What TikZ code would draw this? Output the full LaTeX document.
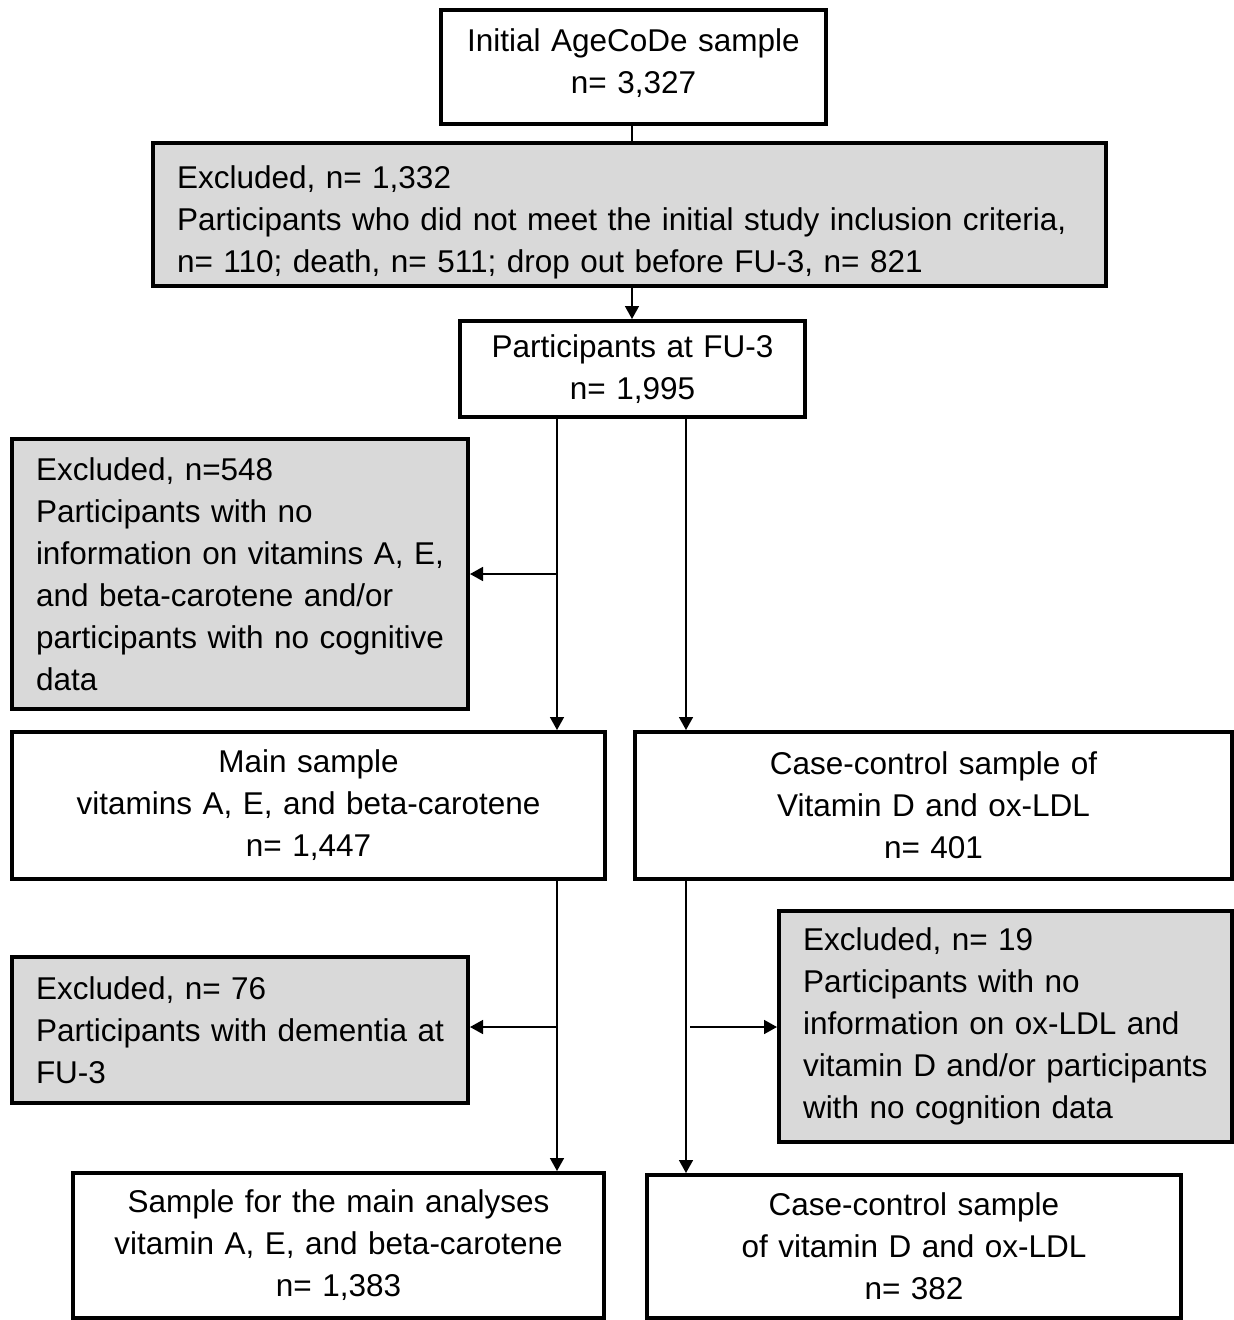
\documentclass[tikz,border=0pt]{standalone}
\usepackage{fontspec}
\setmainfont{Liberation Sans}
\usetikzlibrary{arrows.meta}
\definecolor{boxgray}{RGB}{217,217,217}
\tikzset{
  box/.style={draw=black, line width=4pt, rectangle, inner ysep=0pt, inner xsep=0pt,
    outer sep=0pt, align=center, font=\fontsize{31.5}{42}\selectfont},
  gbox/.style={box, fill=boxgray, align=left, inner xsep=24pt},
  conn/.style={line width=1.6pt, draw=black},
  arr/.style={conn, -{Triangle[length=13pt,width=14pt]}, shorten >=2pt}
}
\begin{document}
\begin{tikzpicture}[x=1pt,y=-1pt]
\useasboundingbox (0,0) rectangle (1234,1320);
\node[box, minimum width=385, minimum height=114, text width=385] (b1) at (633.5,67)
  {Initial AgeCoDe sample\\n= 3,327\rule[-12pt]{0pt}{12pt}};
\node[gbox, minimum width=953, minimum height=143, text width=905] (e1) at (629.5,214.5)
  {\rule{0pt}{39pt}Excluded, n= 1,332\\Participants who did not meet the initial study inclusion criteria,\\n= 110; death, n= 511; drop out before FU-3, n= 821};
\node[box, minimum width=345, minimum height=96, text width=345] (b3) at (632.5,369)
  {Participants at FU-3\\n= 1,995};
\node[gbox, minimum width=456, minimum height=270, text width=408] (e2) at (240,574)
  {Excluded, n=548\\Participants with no\\\mbox{information on vitamins A, E,}\\and beta-carotene and/or\\\mbox{participants with no cognitive}\\data};
\node[box, minimum width=593, minimum height=147, text width=593] (m) at (308.5,805.5)
  {Main sample\\vitamins A, E, and beta-carotene\\n= 1,447};
\node[box, minimum width=597, minimum height=147, text width=597] (c) at (933.5,805.5)
  {Case-control sample of\\Vitamin D and ox-LDL\\n= 401};
\node[gbox, minimum width=456, minimum height=146, text width=408] (e3) at (240,1030)
  {Excluded, n= 76\\\mbox{Participants with dementia at}\\FU-3};
\node[gbox, minimum width=453, minimum height=231, text width=405] (e4) at (1005.5,1026.5)
  {Excluded, n= 19\\Participants with no\\information on ox-LDL and\\\mbox{vitamin D and/or participants}\\with no cognition data};
\node[box, minimum width=531, minimum height=145, text width=531] (bl) at (338.5,1245.5)
  {Sample for the main analyses\\vitamin A, E, and beta-carotene\\n= 1,383};
\node[box, minimum width=534, minimum height=143, text width=534] (br) at (914,1246.5)
  {Case-control sample\\of vitamin D and ox-LDL\\n= 382};
\coordinate (xl) at (557,0);
\coordinate (xr) at (686,0);
\coordinate (j1) at (557,574);
\coordinate (j2) at (557,1027);
\coordinate (j3) at (690,1027);
\draw[conn] (b1.south -| 632,0) -- (e1.north -| 632,0);
\draw[arr] (e1.south -| 632,0) -- (b3.north -| 632,0);
\draw[arr] (b3.south -| xl) -- (m.north -| xl);
\draw[arr] (j1) -- (e2.east |- j1);
\draw[arr] (b3.south -| xr) -- (c.north -| xr);
\draw[arr] (m.south -| xl) -- (bl.north -| xl);
\draw[arr] (j2) -- (e3.east |- j2);
\draw[arr] (c.south -| xr) -- (br.north -| xr);
\draw[arr] (j3) -- (e4.west |- j3);
\end{tikzpicture}
\end{document}
